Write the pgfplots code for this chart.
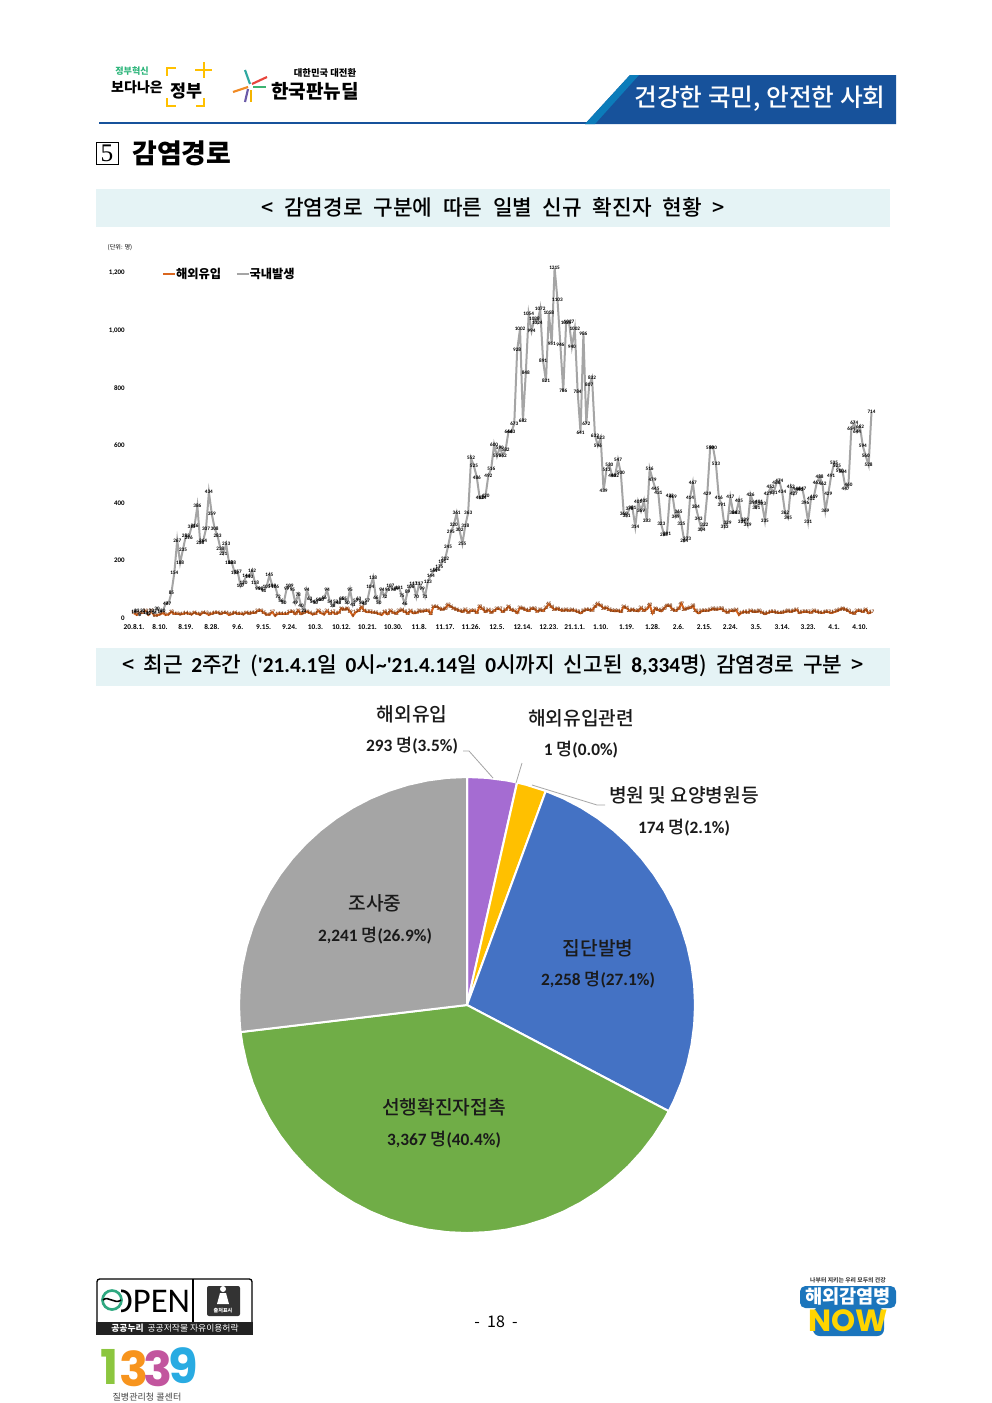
\documentclass[border=0pt]{standalone}
\usepackage{fontspec}
\usepackage{pgfplots}
\pgfplotsset{compat=1.18}
\usepgfplotslibrary{polar}
\setmainfont{Noto Sans CJK KR}
\newfontfamily\krmed{Noto Sans CJK KR Medium}
\newfontfamily\carlito{Carlito}
\newfontfamily\poppins{Poppins}
\newfontfamily\serifn{Liberation Serif}
\tikzset{HTML/.code={\definecolor{tmpc}{HTML}{#1}\pgfkeysalso{/tikz/color=tmpc}}}
\definecolor{bandc}{HTML}{E5F3F5}
\definecolor{navy}{HTML}{17529B}
\definecolor{orangel}{HTML}{D9661F}
\definecolor{grayl}{HTML}{A5A5A5}
\definecolor{pgold}{HTML}{FFC000}
\definecolor{ppurple}{HTML}{A56CD2}
\definecolor{pblue}{HTML}{4472C4}
\definecolor{pgreen}{HTML}{70AD47}
\definecolor{pgray}{HTML}{A5A5A5}
\definecolor{txt}{HTML}{1A1A1A}
\newcommand\pn[2]{{\carlito\bfseries #1} {\krmed 명}{\carlito\bfseries (#2\%)}}
\newcommand\lat{\carlito\bfseries}
\newcommand\ga{\hspace{8pt}}
\newcommand\gb{\hspace{6.5pt}}
\begin{document}
\begin{tikzpicture}
\path[use as bounding box] (0,0) rectangle (744pt,-1052.25pt);
\begin{scope}[x=0.75pt,y=-0.75pt]
\fill[white] (0,0) rectangle (992,1403);
% top banner
\draw[navy,line width=1.5pt] (99,123) -- (896,123);
\fill[navy] (585,124) -- (630,75) -- (896,75) -- (896,124) -- cycle;
\fill[HTML=0C7CBA] (585,124) -- (630,75) -- (639,75) -- (595,124) -- cycle;
\node[white,font=\fontsize{18.5}{19}\selectfont\krmed] at (760,99) {건강한 국민, 안전한 사회};
% logos
\node[HTML=2FB67C,font=\fontsize{6.8}{7}\selectfont\bfseries] at (132,71) {정부혁신};
\node[black,font=\fontsize{10.5}{11}\selectfont\bfseries] at (137,87) {보다나은};
\node[black,font=\fontsize{13}{13}\selectfont\bfseries] at (186,91) {정부};
\draw[pgold,line width=1.5pt] (176,68) -- (167,68) -- (167,76) (167,98) -- (167,106) -- (176,106) (204,98) -- (204,106) -- (196,106);
\draw[pgold,line width=2pt] (204,62) -- (204,78) (195,70) -- (212,70);
\draw[HTML=2EA8A0,line width=1.6pt] (245,70) -- (250,84);
\draw[HTML=E8453C,line width=1.6pt] (252,84) -- (267,77);
\draw[HTML=F08A24,line width=1.6pt] (233,92) -- (248,87);
\draw[HTML=6A5AA8,line width=1.6pt] (245,102) -- (248,89);
\draw[HTML=F4B400,line width=1.6pt] (251,90) -- (251,102);
\draw[HTML=3CB371,line width=1.6pt] (253,87) -- (266,87);
\node[black,font=\fontsize{7}{7}\selectfont\bfseries] at (325,73) {대한민국 대전환};
\node[black,font=\fontsize{14.3}{15}\selectfont\bfseries] at (315,91) {한국판뉴딜};
% section heading
\draw[black,line width=0.5pt] (96,142) rectangle (118,164);
\node[font=\fontsize{19}{19}\selectfont\serifn] at (107,153) {5};
\node[anchor=west,inner sep=0pt,font=\fontsize{20.2}{21}\selectfont\bfseries] at (132,153) {감염경로};
% bands
\fill[bandc] (96,189) rectangle (890,227);
\fill[bandc] (96,648) rectangle (890,686);
\node[font=\fontsize{16}{16}\selectfont\krmed] at (493,207) {<\ga 감염경로\ga 구분에\ga 따른\ga 일별\ga 신규\ga 확진자\ga 현황\ga >};
\node[font=\fontsize{16}{16}\selectfont\krmed] at (493,666) {<\gb 최근\gb {\lat 2}주간\gb ({\lat '21.4.1}일\gb {\lat 0}시{\lat\textasciitilde'21.4.14}일\gb {\lat 0}시까지\gb 신고된\gb {\lat 8,334}명)\gb 감염경로\gb 구분\gb >};
\node[font=\fontsize{4.6}{5}\selectfont] at (120,248) {(단위: 명)};
% footer
\draw[black,line width=1pt,rounded corners=2pt] (97,1279) rectangle (252,1334);
\fill[HTML=222222] (96,1322) rectangle (253,1335);
\draw[black,line width=1pt] (193,1279) -- (193,1322);
\node[font=\fontsize{26}{26}\selectfont\carlito] at (150,1301) {OPEN};
\fill[white] (102,1286) rectangle (121,1316);
\draw[HTML=2EA880,line width=2pt] (112,1300) circle (9.5);
\draw[black,line width=1.2pt] (103,1300) .. controls (108,1295) and (115,1305) .. (121,1300);
\fill[HTML=333333,rounded corners=1.5pt] (207,1286) rectangle (240,1316);
\fill[white] (223,1289) circle (3) (217,1304) -- (220,1293) -- (226,1293) -- (229,1304) -- cycle;
\node[white,font=\fontsize{3.8}{4}\selectfont\bfseries] at (223,1311) {출처표시};
\node[white,inner sep=0pt,font=\fontsize{6.6}{7}\selectfont] at (175,1328) {{\bfseries 공공누리}\ \ 공공저작물 자유이용허락};
\node[font=\fontsize{12}{12}\selectfont] at (496,1322) {-\ \ 18\ \ -};
\node[font=\fontsize{36}{36}\selectfont\poppins\bfseries,HTML=8CC63F] at (110,1367) {1};
\node[font=\fontsize{36}{36}\selectfont\poppins\bfseries,HTML=F7941D] at (134,1369) {3};
\node[font=\fontsize{36}{36}\selectfont\poppins\bfseries,HTML=C2559E] at (158,1369) {3};
\node[font=\fontsize{36}{36}\selectfont\poppins\bfseries,HTML=29ABE2] at (183,1366) {9};
\node[inner sep=0pt,font=\fontsize{6.8}{7}\selectfont,HTML=444444] at (147,1397) {질병관리청 콜센터};
\node[font=\fontsize{4.4}{5}\selectfont\bfseries,HTML=444444] at (848,1280) {나부터 지키는 우리 모두의 건강};
\fill[HTML=1B75BC,rounded corners=4pt] (800,1286) rectangle (896,1308);
\node[white,font=\fontsize{14}{14}\selectfont\bfseries] at (848,1297) {해외감염병};
\fill[HTML=1B75BC,rounded corners=5pt] (813,1307) rectangle (884,1336);
\node[font=\fontsize{23}{23}\selectfont\poppins\bfseries,HTML=FFD400] at (848,1321) {NOW};
% pie labels
\node[font=\fontsize{14.4}{15}\selectfont\krmed,txt] at (412,714) {해외유입};
\node[font=\fontsize{13}{13}\selectfont,txt] at (412,746) {\pn{293}{3.5}};
\node[font=\fontsize{14.4}{15}\selectfont\krmed,txt] at (581,718) {해외유입관련};
\node[font=\fontsize{13}{13}\selectfont,txt] at (581,750) {\pn{1}{0.0}};
\node[font=\fontsize{14.4}{15}\selectfont\krmed,txt] at (684,795) {병원 및 요양병원등};
\node[font=\fontsize{13}{13}\selectfont,txt] at (684,828) {\pn{174}{2.1}};
\end{scope}
% daily cases
\begin{axis}[
  at={(100.5pt,-462.75pt)}, anchor=south west,
  scale only axis, width=553.125pt, height=269.53pt,
  xmin=0, xmax=256, ymin=0, ymax=1250,
  clip=false,
  axis line style={draw=none},
  major tick length=0pt,
  xtick={0,9,...,252},
  xticklabels={20.8.1.,8.10.,8.19.,8.28.,9.6.,9.15.,9.24.,10.3.,10.12.,10.21.,10.30.,11.8.,11.17.,11.26.,12.5.,12.14.,12.23.,21.1.1.,1.10.,1.19.,1.28.,2.6.,2.15.,2.24.,3.5.,3.14.,3.23.,4.1.,4.10.},
  ytick={0,200,...,1200},
  /pgf/number format/.cd, 1000 sep={,}, assume math mode=true, /pgfplots/.cd,
  xticklabel style={font=\fontsize{5.5}{6}\selectfont\carlito\bfseries, inner sep=0pt, text height=4pt, text depth=0pt, yshift=-5.2pt},
  yticklabel style={font=\fontsize{5.2}{6}\selectfont\carlito\bfseries, inner sep=0pt, xshift=-6.75pt, yshift=-0.6pt},
  legend style={at={(0.038,0.954)}, anchor=west, draw=none, fill=none, inner sep=0pt, font=\fontsize{9.2}{10}\selectfont\bfseries, /tikz/every even column/.append style={column sep=9pt}, /tikz/every odd column/.append style={column sep=-2.2pt}},
  legend columns=2,
  legend image code/.code={\draw[#1] (0pt,0pt) -- (9pt,0pt);},
  nodes near coords={\pgfmathprintnumber[1000 sep={},assume math mode=true,fixed,precision=0]{\pgfplotspointmeta}},
  every node near coord/.style={anchor=center, inner sep=0pt, text=black, font=\fontsize{3.9}{4}\selectfont\carlito\bfseries},
]
% imported
\addplot[orangel, line width=1.5pt, every node near coord/.append style={text=orangel!60!black}] coordinates {
(0,13)(1,7)(2,15)(3,14)(4,20)(5,8)(6,20)(7,6)(8,6)(9,9)
(10,14)(11,7)(12,9)(13,18)(14,11)(15,12)(16,9)(17,11)(18,14)(19,12)
(20,9)(21,16)(22,11)(23,8)(24,16)(25,13)(26,7)(27,12)(28,15)(29,16)
(30,10)(31,14)(32,14)(33,7)(34,10)(35,16)(36,11)(37,12)(38,9)(39,16)
(40,12)(41,15)(42,14)(43,22)(44,23)(45,15)(46,8)(47,8)(48,17)(49,4)
(50,12)(51,11)(52,11)(53,11)(54,17)(55,19)(56,10)(57,22)(58,10)(59,15)
(60,19)(61,14)(62,9)(63,11)(64,22)(65,13)(66,9)(67,21)(68,11)(69,17)
(70,11)(71,14)(72,30)(73,26)(74,30)(75,19)(76,4)(77,17)(78,22)(79,34)
(80,21)(81,17)(82,17)(83,16)(84,15)(85,11)(86,7)(87,18)(88,10)(89,22)
(90,15)(91,12)(92,20)(93,24)(94,18)(95,12)(96,21)(97,13)(98,14)(99,20)
(100,19)(101,21)(102,23)(103,12)(104,36)(105,36)(106,30)(107,26)(108,30)(109,42)
(110,36)(111,30)(112,26)(113,22)(114,18)(115,25)(116,16)(117,22)(118,22)(119,15)
(120,37)(121,28)(122,18)(123,24)(124,16)(125,21)(126,29)(127,27)(128,18)(129,25)
(130,36)(131,24)(132,22)(133,14)(134,32)(135,30)(136,24)(137,21)(138,30)(139,28)
(140,19)(141,25)(142,21)(143,32)(144,45)(145,34)(146,26)(147,29)(148,24)(149,22)
(150,25)(151,22)(152,24)(153,22)(154,18)(155,13)(156,20)(157,26)(158,24)(159,23)
(160,36)(161,45)(162,40)(163,30)(164,32)(165,25)(166,22)(167,20)(168,21)(169,18)
(170,36)(171,31)(172,22)(173,26)(174,22)(175,20)(176,31)(177,22)(178,27)(179,42)
(180,13)(181,30)(182,24)(183,20)(184,30)(185,40)(186,38)(187,26)(188,22)(189,28)
(190,47)(191,26)(192,30)(193,32)(194,38)(195,20)(196,13)(197,20)(198,22)(199,22)
(200,24)(201,28)(202,26)(203,27)(204,28)(205,20)(206,16)(207,22)(208,20)(209,24)
(210,7)(211,16)(212,18)(213,16)(214,22)(215,18)(216,18)(217,20)(218,16)(219,10)
(220,14)(221,18)(222,18)(223,16)(224,14)(225,15)(226,18)(227,20)(228,18)(229,22)
(230,25)(231,14)(232,17)(233,18)(234,17)(235,15)(236,22)(237,18)(238,16)(239,14)
(240,18)(241,17)(242,14)(243,17)(244,20)(245,26)(246,30)(247,26)(248,20)(249,14)
(250,12)(251,21)(252,22)(253,18)(254,26)(255,13)(256,17)
};
\addlegendentry{해외유입}
% domestic
\addplot[grayl, line width=1.5pt] coordinates {
(0,18)(1,23)(2,8)(3,20)(4,13)(5,12)(6,23)(7,14)(8,30)(9,19)
(10,20)(11,47)(12,47)(13,85)(14,154)(15,267)(16,188)(17,235)(18,283)(19,276)
(20,315)(21,316)(22,386)(23,258)(24,264)(25,307)(26,434)(27,359)(28,308)(29,283)
(30,238)(31,221)(32,253)(33,188)(34,188)(35,152)(36,157)(37,107)(38,120)(39,144)
(40,140)(41,162)(42,118)(43,99)(44,98)(45,91)(46,105)(47,145)(48,109)(49,106)
(50,72)(51,56)(52,50)(53,99)(54,109)(55,95)(56,49)(57,78)(58,40)(59,23)
(60,94)(61,63)(62,54)(63,50)(64,60)(65,60)(66,66)(67,94)(68,54)(69,38)
(70,52)(71,48)(72,65)(73,65)(74,50)(75,95)(76,41)(77,57)(78,63)(79,50)
(80,45)(81,57)(82,104)(83,138)(84,66)(85,50)(86,94)(87,72)(88,96)(89,107)
(90,96)(91,99)(92,101)(93,75)(94,46)(95,89)(96,106)(97,117)(98,70)(99,117)
(100,99)(101,71)(102,123)(103,144)(104,161)(105,166)(106,175)(107,191)(108,202)(109,245)
(110,295)(111,320)(112,361)(113,302)(114,255)(115,318)(116,363)(117,552)(118,525)(119,486)
(120,413)(121,414)(122,420)(123,492)(124,516)(125,600)(126,559)(127,590)(128,562)(129,582)
(130,646)(131,643)(132,673)(133,928)(134,1002)(135,682)(136,848)(137,1054)(138,994)(139,1038)
(140,1024)(141,1072)(142,891)(143,821)(144,1058)(145,951)(146,1215)(147,1103)(148,946)(149,786)
(150,1025)(151,1027)(152,940)(153,1002)(154,784)(155,641)(156,986)(157,672)(158,807)(159,832)
(160,632)(161,596)(162,623)(163,439)(164,513)(165,530)(166,490)(167,492)(168,547)(169,500)
(170,360)(171,351)(172,378)(173,381)(174,314)(175,401)(176,369)(177,405)(178,333)(179,516)
(180,479)(181,445)(182,431)(183,323)(184,285)(185,291)(186,422)(187,419)(188,349)(189,365)
(190,325)(191,264)(192,273)(193,414)(194,467)(195,384)(196,343)(197,304)(198,322)(199,429)
(200,590)(201,590)(202,533)(203,416)(204,391)(205,313)(206,329)(207,417)(208,364)(209,363)
(210,405)(211,331)(212,339)(213,319)(214,426)(215,398)(216,381)(217,401)(218,393)(219,335)
(220,427)(221,452)(222,431)(223,466)(224,474)(225,434)(226,362)(227,345)(228,452)(229,427)
(230,446)(231,443)(232,447)(233,396)(234,331)(235,412)(236,419)(237,467)(238,488)(239,462)
(240,369)(241,429)(242,491)(243,535)(244,525)(245,510)(246,504)(247,447)(248,460)(249,654)
(250,674)(251,644)(252,662)(253,594)(254,560)(255,528)(256,714)
};
\addlegendentry{국내발생}
\end{axis}
% infection routes
\begin{polaraxis}[
  at={(350.25pt,-753.75pt)}, anchor=center,
  scale only axis, width=342pt, height=342pt,
  hide axis, clip=false,
  xmin=-270, xmax=90, ymin=0, ymax=228,
  every axis plot/.append style={draw=white, line width=1.5pt, line join=round},
]
\addplot[fill=ppurple] coordinates {(0,0)(90,228)(85,228)(80,228)(77.34,228)(0,0)};
\addplot[fill=pgold] coordinates {(0,0)(77.3,228)(75,228)(70,228)(69.79,228)(0,0)};
\addplot[fill=pblue] coordinates {(0,0)(69.79,228)(65,228)(60,228)(55,228)(50,228)(45,228)(40,228)(35,228)(30,228)(25,228)(20,228)(15,228)(10,228)(5,228)(0,228)(-5,228)(-10,228)(-15,228)(-20,228)(-25,228)(-27.75,228)(0,0)};
\addplot[fill=pgreen] coordinates {(0,0)(-27.75,228)(-30,228)(-35,228)(-40,228)(-45,228)(-50,228)(-55,228)(-60,228)(-65,228)(-70,228)(-75,228)(-80,228)(-85,228)(-90,228)(-95,228)(-100,228)(-105,228)(-110,228)(-115,228)(-120,228)(-125,228)(-130,228)(-135,228)(-140,228)(-145,228)(-150,228)(-155,228)(-160,228)(-165,228)(-170,228)(-173.19,228)(0,0)};
\addplot[fill=pgray] coordinates {(0,0)(-173.19,228)(-175,228)(-180,228)(-185,228)(-190,228)(-195,228)(-200,228)(-205,228)(-210,228)(-215,228)(-220,228)(-225,228)(-230,228)(-235,228)(-240,228)(-245,228)(-250,228)(-255,228)(-260,228)(-265,228)(-270,228)(0,0)};
\end{polaraxis}
\begin{scope}[x=0.75pt,y=-0.75pt]
\draw[HTML=A6A6A6,line width=0.6pt] (463,751) -- (469,751) -- (493,778);
\draw[HTML=A6A6A6,line width=0.6pt] (522,763) -- (516,783);
\draw[HTML=A6A6A6,line width=0.6pt] (532,785) -- (597,805) -- (605,805);
\node[font=\fontsize{14.4}{15}\selectfont\krmed,txt] at (375,903) {조사중};
\node[font=\fontsize{13}{13}\selectfont,txt] at (375,936) {\pn{2,241}{26.9}};
\node[font=\fontsize{14.4}{15}\selectfont\krmed,txt] at (598,948) {집단발병};
\node[font=\fontsize{13}{13}\selectfont,txt] at (598,980) {\pn{2,258}{27.1}};
\node[font=\fontsize{14.4}{15}\selectfont\krmed,txt] at (444,1107) {선행확진자접촉};
\node[font=\fontsize{13}{13}\selectfont,txt] at (444,1140) {\pn{3,367}{40.4}};
\end{scope}
\end{tikzpicture}
\end{document}
